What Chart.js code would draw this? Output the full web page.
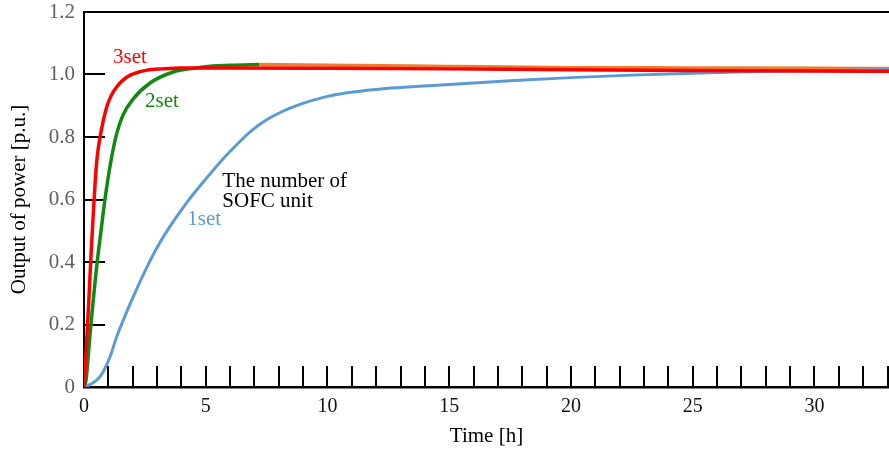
<!DOCTYPE html>
<html>
<head>
<meta charset="utf-8">
<script src="https://cdn.jsdelivr.net/npm/chart.js@4/dist/chart.umd.min.js"></script>
<style>
  body { margin: 0; background: #fff; }
  canvas { display: block; }
</style>
</head>
<body>
<canvas id="powerChart" width="889" height="451"></canvas>
<script>
// time [h] and output [p.u.], one pair of arrays per curve
var set3Time = [0, 0.05, 0.1, 0.2, 0.3, 0.4, 0.52, 0.66, 0.8, 0.93, 1.1, 1.34, 1.6, 1.9, 2.3, 2.6, 3.2, 4, 6, 10, 15, 20, 25, 30, 33.06]
var set3Power = [0, 0.06, 0.13, 0.28, 0.44, 0.58, 0.72, 0.8, 0.855, 0.895, 0.93, 0.96, 0.982, 0.998, 1.009, 1.014, 1.018, 1.021, 1.021, 1.02, 1.018, 1.015, 1.013, 1.011, 1.01]

var set2Time = [0, 0.08, 0.25, 0.52, 0.7, 0.86, 1.1, 1.34, 1.6, 2.0, 2.7, 3.66, 4.5, 5.3, 6.2, 7.2]
var set2Power = [0, 0.02, 0.17, 0.385, 0.5, 0.6, 0.72, 0.81, 0.87, 0.92, 0.972, 1.008, 1.02, 1.027, 1.03, 1.032]

var tailTime = [7.2, 10, 15, 20, 25, 30, 33.06]
var tailPower = [1.032, 1.03, 1.026, 1.022, 1.021, 1.02, 1.019]

var set1Time = [0, 0.3, 0.66, 1.07, 1.34, 2.03, 2.72, 3.1, 3.54, 4.22, 5.05, 5.65, 6.14, 6.8, 7.5, 8.1, 8.9, 10, 12, 15, 17.5, 20, 22.5, 25, 28, 30, 33.06]
var set1Power = [0, 0.01, 0.033, 0.097, 0.16, 0.29, 0.405, 0.46, 0.515, 0.59, 0.67, 0.725, 0.765, 0.815, 0.855, 0.88, 0.905, 0.93, 0.952, 0.968, 0.98, 0.99, 0.998, 1.004, 1.01, 1.012, 1.016]

var yTickValues = [0, 0.2, 0.4, 0.6, 0.8, 1.0, 1.2]

// text labels placed in data coordinates
var notes = [
    { text: '3set', t: 1.19, v: 1.054, color: '#ff0000' },
    { text: '2set', t: 2.51, v: 0.913, color: '#108a10' },
    { text: '1set', t: 4.24, v: 0.535, color: '#5b9bd5' },
    { text: 'The number of', t: 5.68, v: 0.657, color: '#000000' },
    { text: 'SOFC unit', t: 5.68, v: 0.593, color: '#000000' }
]

var serif = "'Liberation Serif', 'Times New Roman', serif"

function toPoints(xs, ys) {
    var pts = []
    for (var i = 0; i < xs.length; i++) {
        pts.push({ x: xs[i], y: ys[i] })
    }
    return pts
}

function lineSet(label, xs, ys, color, width, order) {
    return {
        label: label,
        data: toPoints(xs, ys),
        borderColor: color,
        backgroundColor: color,
        borderWidth: width,
        pointRadius: 0,
        showLine: true,
        cubicInterpolationMode: 'monotone',
        order: order
    }
}

// inward tick marks + top frame line
var innerTicks = {
    id: 'innerTicks',
    beforeDatasetsDraw(chart) {
        var ctx = chart.ctx
        var area = chart.chartArea
        var xs = chart.scales.x
        var ys = chart.scales.y
        ctx.save()
        ctx.strokeStyle = '#000'
        ctx.lineWidth = 2
        ctx.beginPath()
        xs.ticks.forEach(function (t) {
            var px = Math.round(xs.getPixelForValue(t.value))
            ctx.moveTo(px, area.bottom)
            ctx.lineTo(px, area.bottom - 21)
        })
        ys.ticks.forEach(function (t) {
            var py = Math.round(ys.getPixelForValue(t.value))
            ctx.moveTo(area.left, py)
            ctx.lineTo(area.left + 21, py)
        })
        ctx.moveTo(area.left, area.top)
        ctx.lineTo(area.right, area.top)
        ctx.stroke()
        ctx.restore()
    }
}

var noteLabels = {
    id: 'noteLabels',
    afterDatasetsDraw(chart) {
        var ctx = chart.ctx
        var xs = chart.scales.x
        var ys = chart.scales.y
        ctx.save()
        ctx.font = '21px ' + serif
        ctx.textAlign = 'left'
        ctx.textBaseline = 'middle'
        notes.forEach(function (n) {
            ctx.fillStyle = n.color
            ctx.fillText(n.text, xs.getPixelForValue(n.t), ys.getPixelForValue(n.v))
        })
        ctx.restore()
    }
}

var chart = new Chart(document.getElementById('powerChart'), {
    type: 'scatter',
    data: {
        datasets: [
            lineSet('tail', tailTime, tailPower, '#ed7d31', 3.5, 4),
            lineSet('2set', set2Time, set2Power, '#108a10', 3.5, 3),
            lineSet('1set', set1Time, set1Power, '#5b9bd5', 3, 2),
            lineSet('3set', set3Time, set3Power, '#ff0000', 3.5, 1)
        ]
    },
    options: {
        responsive: false,
        animation: false,
        layout: { padding: { top: 12, right: 0, left: 0, bottom: 0 } },
        plugins: {
            legend: { display: false },
            tooltip: { enabled: false }
        },
        scales: {
            x: {
                type: 'linear',
                min: 0,
                max: 33.06,
                grid: { display: false, drawTicks: false },
                border: { display: true, color: '#000', width: 2.5 },
                ticks: {
                    stepSize: 1,
                    includeBounds: false,
                    autoSkip: false,
                    maxRotation: 0,
                    padding: 8,
                    color: '#111',
                    font: { family: serif, size: 20 },
                    callback: function (v) { return v % 5 === 0 ? String(v) : '' }
                },
                title: {
                    display: true,
                    text: 'Time [h]',
                    color: '#000',
                    font: { family: serif, size: 21 },
                    padding: { top: 0, bottom: 2 }
                },
                afterFit: function (scale) {
                    scale.height = 64
                    scale.paddingLeft = 0
                    scale.paddingRight = 0
                }
            },
            y: {
                min: 0,
                max: 1.2,
                grid: { display: false, drawTicks: false },
                border: { display: true, color: '#000', width: 2 },
                afterBuildTicks: function (scale) {
                    scale.ticks = yTickValues.map(function (v) { return { value: v } })
                },
                ticks: {
                    padding: 9,
                    color: '#5f5f5f',
                    font: { family: serif, size: 21 },
                    callback: function (v) { return v === 0 ? '0' : v.toFixed(1) }
                },
                title: {
                    display: true,
                    text: 'Output of power [p.u.]',
                    color: '#000',
                    font: { family: serif, size: 21 },
                    padding: { top: 7, bottom: 0 }
                },
                afterFit: function (scale) {
                    scale.width = 84
                    scale.paddingTop = 0
                    scale.paddingBottom = 0
                }
            }
        }
    },
    plugins: [innerTicks, noteLabels]
})
</script>
</body>
</html>
